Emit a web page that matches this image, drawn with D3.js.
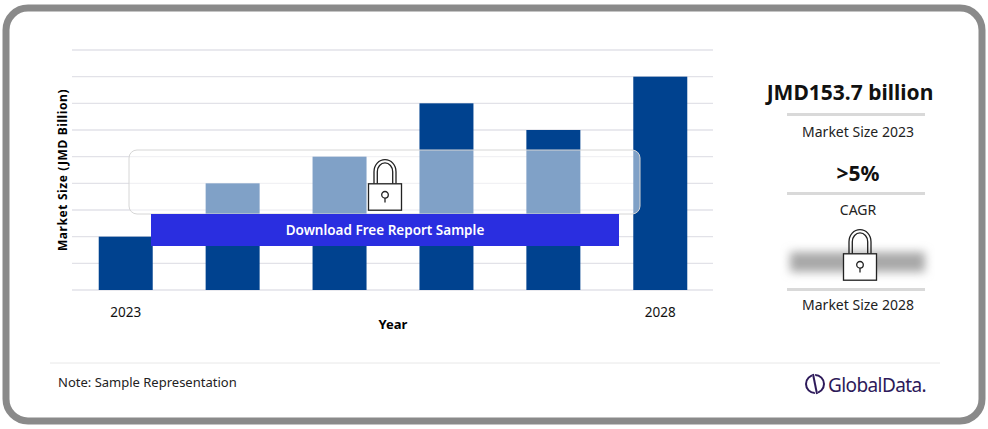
<!DOCTYPE html><html><head><meta charset="utf-8"><script src="https://d3js.org/d3.v7.min.js"></script>
<style>body{margin:0;background:#fff}svg{font-family:"Noto Sans",sans-serif}</style></head><body><svg id="c" width="988" height="429"></svg>
<script>
const years=["2023","2024","2025","2026","2027","2028"];
const values=[2,4,5,7,6,8];
const tickLabels={"2023":"2023","2028":"2028"};
const gridVals=[0,1,2,3,4,5,6,7,8,9];
const svg=d3.select("#c");
const defs=svg.append("defs");
const f=defs.append("filter").attr("id","bl").attr("x","-20%").attr("y","-80%").attr("width","140%").attr("height","260%");
f.append("feGaussianBlur").attr("stdDeviation",5);
svg.append("rect").attr("x",6).attr("y",8).attr("width",976).attr("height",413).attr("rx",22).attr("fill","#fff").attr("stroke","#8a8a8a").attr("stroke-width",7);
const x=d3.scaleBand().domain(years).range([72,714]).paddingInner(0.495).paddingOuter(0.25);
const y=d3.scaleLinear().domain([0,9]).range([290,50]);
svg.append("g").selectAll("line").data(gridVals).join("line").attr("x1",72).attr("x2",713).attr("y1",d=>y(d)).attr("y2",d=>y(d)).attr("stroke","#e2e2e8").attr("stroke-width",1.3);
svg.append("g").selectAll("rect").data(values).join("rect").attr("x",(d,i)=>x(years[i])).attr("width",x.bandwidth()).attr("y",d=>y(d)).attr("height",d=>y(0)-y(d)).attr("fill","#00428f");
svg.append("rect").attr("x",129).attr("y",150).attr("width",511).attr("height",64).attr("rx",8).attr("fill","rgba(255,255,255,0.5)").attr("stroke","#d6d6d6");
svg.append("rect").attr("x",151).attr("y",214).attr("width",468).attr("height",32).attr("fill","#2a2ee0");
svg.append("text").attr("x",385).attr("y",235).attr("text-anchor","middle").attr("fill","#fff").attr("font-size",13.5).attr("font-weight",600).text("Download Free Report Sample");
function lock(cx,cy){const g=svg.append("g").attr("transform",`translate(${cx},${cy}) scale(1.1)`).attr("fill","none").attr("stroke","#222").attr("stroke-width",1.2);
g.append("path").attr("d","M-10,-2 V-13 A10,11 0 0 1 10,-13 V-2 M-7,-2 V-13 A7,8 0 0 1 7,-13 V-2");
g.append("rect").attr("x",-15).attr("y",-2).attr("width",30).attr("height",24).attr("fill","#fff");
g.append("circle").attr("cx",0).attr("cy",8).attr("r",3);g.append("line").attr("x1",0).attr("x2",0).attr("y1",11).attr("y2",15);}
lock(385,186);
svg.append("g").selectAll("text").data(years.filter(d=>tickLabels[d])).join("text").attr("x",d=>x(d)+x.bandwidth()/2).attr("y",317).attr("text-anchor","middle").attr("font-size",13.5).attr("fill","#111").text(d=>tickLabels[d]);
svg.append("text").attr("x",393).attr("y",329).attr("text-anchor","middle").attr("font-size",13).attr("font-weight",700).text("Year");
svg.append("text").attr("transform","translate(67,170) rotate(-90)").attr("text-anchor","middle").attr("font-size",12).attr("font-weight",700).attr("letter-spacing",0.6).text("Market Size (JMD Billion)");
svg.append("text").attr("x",850).attr("y",100).attr("text-anchor","middle").attr("font-size",21).attr("font-weight",700).attr("fill","#111").text("JMD153.7 billion");
const sep=[113,192,288];sep.forEach(v=>svg.append("rect").attr("x",787).attr("y",v).attr("width",138).attr("height",3).attr("fill","#d9d9d9"));
svg.append("text").attr("x",858).attr("y",137).attr("text-anchor","middle").attr("font-size",14).attr("fill","#222").text("Market Size 2023");
svg.append("text").attr("x",858).attr("y",181).attr("text-anchor","middle").attr("font-size",21).attr("font-weight",700).attr("fill","#111").text(">5%");
svg.append("text").attr("x",858).attr("y",215).attr("text-anchor","middle").attr("font-size",14).attr("fill","#222").text("CAGR");
svg.append("rect").attr("x",790).attr("y",252).attr("width",135).attr("height",20).attr("fill","#a8a8a8").attr("filter","url(#bl)");
lock(860,256);
svg.append("text").attr("x",858).attr("y",310).attr("text-anchor","middle").attr("font-size",14).attr("fill","#222").text("Market Size 2028");
svg.append("line").attr("x1",50).attr("x2",940).attr("y1",363).attr("y2",363).attr("stroke","#e8e8e8");
svg.append("text").attr("x",58).attr("y",387).attr("font-size",13).attr("fill","#222").text("Note: Sample Representation");
const lg=svg.append("g").attr("fill","none").attr("stroke","#2d1a5a").attr("stroke-width",2);
lg.append("circle").attr("cx",815).attr("cy",384).attr("r",9);lg.append("line").attr("x1",813).attr("y1",371).attr("x2",817).attr("y2",397).attr("stroke","#fff").attr("stroke-width",3);lg.append("line").attr("x1",813).attr("y1",374).attr("x2",817).attr("y2",394);
svg.append("text").attr("x",828).attr("y",392).attr("font-size",19).attr("fill","#2d1a5a").attr("letter-spacing",-0.6).text("GlobalData.");
</script></body></html>
